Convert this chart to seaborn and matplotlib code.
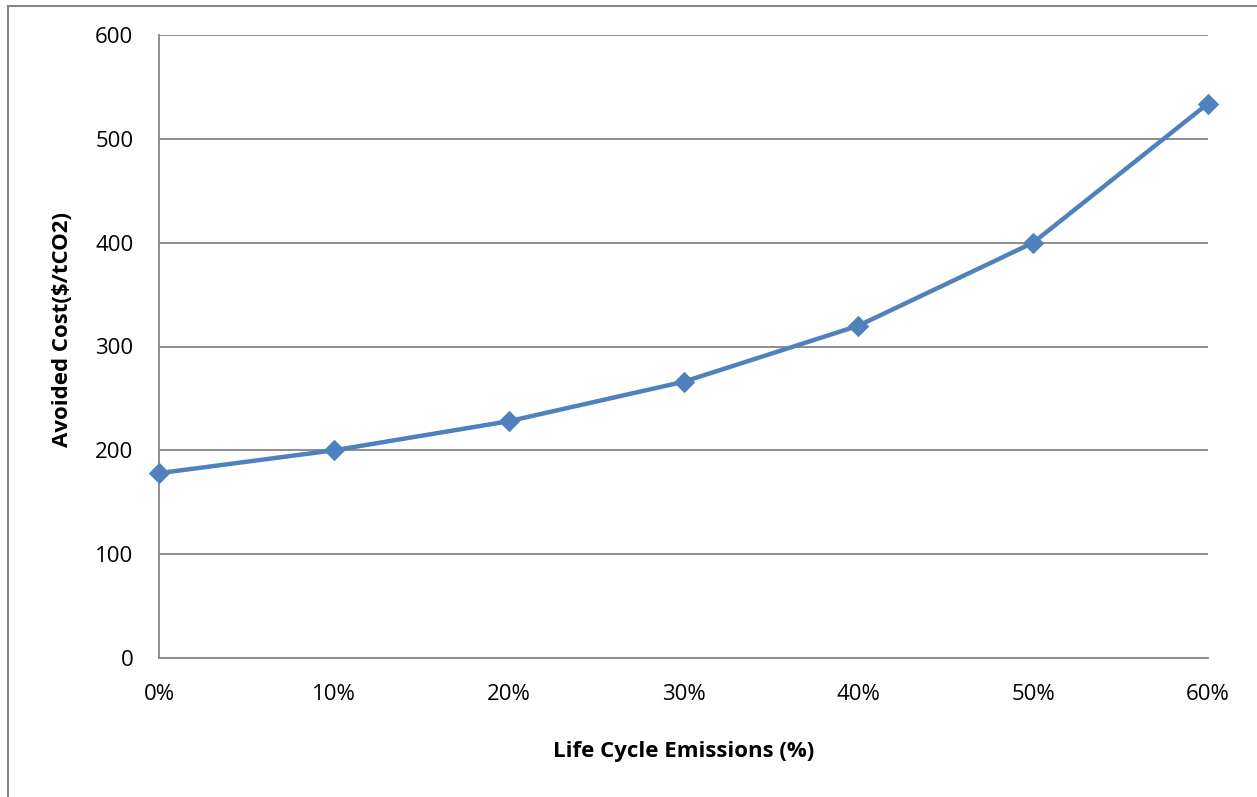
import matplotlib
matplotlib.use("Agg")
import matplotlib.pyplot as plt
from matplotlib.patches import Rectangle
import seaborn as sns
import pandas as pd

# Life cycle emissions share (%) and avoided cost ($/tCO2)
emissions_pct = [0, 10, 20, 30, 40, 50, 60]
avoided_cost = [178, 200, 228, 266, 320, 400, 534]
x_tick_labels = ["0%", "10%", "20%", "30%", "40%", "50%", "60%"]
y_ticks = [0, 100, 200, 300, 400, 500, 600]

df = pd.DataFrame({"emissions": emissions_pct, "cost": avoided_cost})

sns.set_theme(style="white")
plt.rcParams["font.family"] = ["Open Sans", "DejaVu Sans"]

W, H = 1257, 797
fig = plt.figure(figsize=(W / 100, H / 100), dpi=100)
ax = fig.add_axes([159 / W, 1 - 658 / H, (1208 - 159) / W, (658 - 35) / H])

# outer chart frame (only top and left edges fall inside the canvas)
fig.patches.append(Rectangle((8 / W, -0.1), 1.2, 1 - 6 / H + 0.1,
                             transform=fig.transFigure, fill=False,
                             edgecolor="#868686", linewidth=1.5, zorder=0))

sns.lineplot(data=df, x="emissions", y="cost", ax=ax, color="#4F81BD",
             linewidth=3.2, marker="D", markersize=10,
             markeredgecolor="#4F81BD", markerfacecolor="#4F81BD", zorder=3,
             clip_on=False)

ax.set_xlim(0, 60)
ax.set_ylim(0, 600)
ax.set_xticks(emissions_pct)
ax.set_xticklabels(x_tick_labels)
ax.set_yticks(y_ticks)
ax.yaxis.grid(True, color="#868686", linewidth=1.3)
ax.xaxis.grid(False)
for side in ["top", "right"]:
    ax.spines[side].set_visible(False)
for side in ["left", "bottom"]:
    ax.spines[side].set_color("#868686")
    ax.spines[side].set_linewidth(1.3)
ax.tick_params(axis="x", length=0, pad=19, labelsize=16, colors="black")
ax.tick_params(axis="y", length=0, pad=18.5, labelsize=16, colors="black")

ax.set_xlabel("Life Cycle Emissions (%)", fontsize=16, fontweight="bold",
              color="black", labelpad=26)
ax.set_ylabel("Avoided Cost($/tCO2)", fontsize=16, fontweight="bold",
              color="black", labelpad=15)
ax.yaxis.set_label_coords(-0.082, 0.527)

fig.savefig("out.png", dpi=100, facecolor="white")
